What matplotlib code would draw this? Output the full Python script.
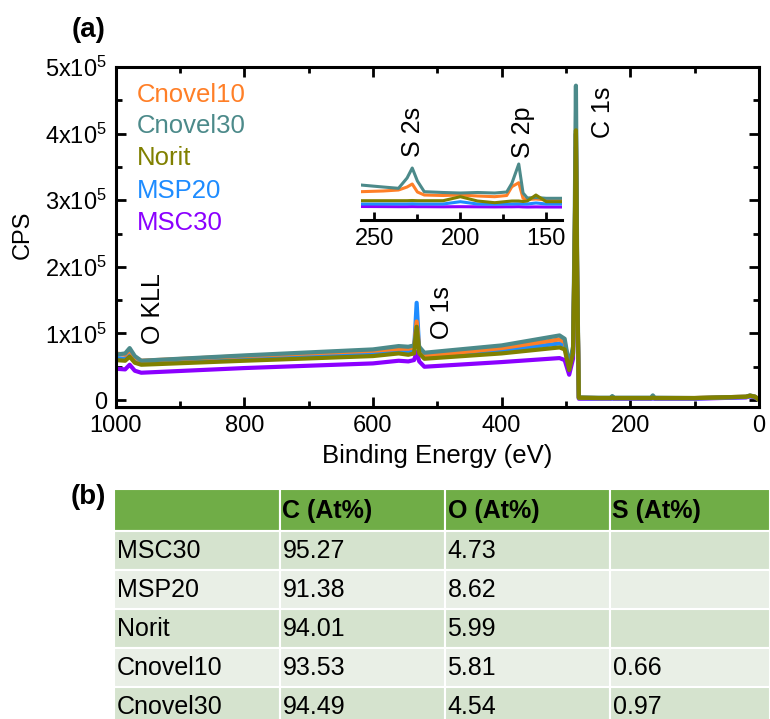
import matplotlib
matplotlib.use("Agg")
import matplotlib.pyplot as plt
from matplotlib.patches import Rectangle
from matplotlib.ticker import FixedLocator, MultipleLocator

plt.rcParams['font.family'] = ['Liberation Sans', 'DejaVu Sans']
plt.rcParams['mathtext.fontset'] = 'custom'
plt.rcParams['mathtext.rm'] = 'Liberation Sans'
plt.rcParams['mathtext.it'] = 'Liberation Sans:italic'

# ---------------- data: survey spectra (CPS in units of 1e5) ----------------
energy = [1000, 985, 978, 970, 960, 800, 600, 560, 545, 536, 532, 528, 520, 400, 310, 302,
          295, 289, 286.5, 284.5, 282.5, 280, 250, 230, 228, 226, 168, 165, 162, 100, 20, 14, 6, 0]
cnovel10 = [0.70, 0.68, 0.75, 0.64, 0.59, 0.66, 0.74, 0.77, 0.77, 0.79, 1.18, 0.77, 0.66, 0.78, 0.91, 0.87,
            0.50, 0.75, 2.30, 4.00, 1.80, 0.035, 0.03, 0.03, 0.045, 0.03, 0.03, 0.05, 0.03, 0.03, 0.05, 0.065, 0.05, 0.0]
cnovel30 = [0.68, 0.70, 0.78, 0.66, 0.59, 0.67, 0.76, 0.81, 0.80, 0.82, 1.05, 0.80, 0.71, 0.82, 0.97, 0.92,
            0.52, 0.80, 2.60, 4.72, 2.00, 0.04, 0.035, 0.035, 0.06, 0.035, 0.035, 0.07, 0.035, 0.03, 0.05, 0.07, 0.05, 0.0]
norit = [0.60, 0.59, 0.65, 0.56, 0.53, 0.59, 0.66, 0.70, 0.68, 0.70, 1.10, 0.70, 0.62, 0.70, 0.79, 0.76,
         0.45, 0.70, 2.30, 4.05, 1.80, 0.035, 0.03, 0.03, 0.035, 0.03, 0.03, 0.035, 0.03, 0.03, 0.05, 0.065, 0.05, 0.0]
msp20 = [0.63, 0.62, 0.70, 0.59, 0.55, 0.62, 0.70, 0.74, 0.73, 0.75, 1.46, 0.74, 0.63, 0.74, 0.85, 0.82,
         0.47, 0.72, 2.20, 4.00, 1.70, 0.03, 0.025, 0.025, 0.03, 0.025, 0.025, 0.03, 0.025, 0.025, 0.045, 0.06, 0.045, 0.0]
msc30 = [0.47, 0.46, 0.53, 0.44, 0.41, 0.48, 0.55, 0.59, 0.58, 0.60, 0.72, 0.58, 0.50, 0.57, 0.63, 0.60,
         0.38, 0.62, 2.00, 3.80, 1.60, 0.02, 0.02, 0.02, 0.025, 0.02, 0.02, 0.025, 0.02, 0.02, 0.04, 0.055, 0.04, 0.0]

# ---------------- data: inset (S 2s / S 2p region, CPS) ----------------
energy_in = [258, 245, 236, 231, 228, 225, 221, 210, 200, 190, 180, 173, 170, 166, 163.5, 161, 156, 150, 141]
cnovel10_in = [2830, 2900, 3000, 3300, 3600, 2800, 2500, 2450, 2500, 2400, 2330, 2450, 3330, 3730, 2170, 2050, 2100, 2000, 2000]
cnovel30_in = [3500, 3300, 3170, 4200, 5200, 3900, 2830, 2750, 2700, 2750, 2700, 2800, 3670, 5600, 2700, 2200, 2250, 2170, 2170]
norit_in = [1930, 1930, 1930, 1930, 1950, 1930, 1930, 1930, 2330, 1900, 1730, 1850, 1900, 1900, 1850, 1900, 2500, 1830, 1830]
msp20_in = [1600, 1600, 1600, 1600, 1620, 1600, 1600, 1600, 1830, 1600, 1580, 1600, 1600, 1620, 1600, 1600, 1700, 1600, 1600]
msc30_in = [1350, 1340, 1330, 1330, 1340, 1330, 1330, 1320, 1330, 1320, 1310, 1320, 1320, 1330, 1310, 1300, 1310, 1300, 1300]

series_names = ['MSC30', 'MSP20', 'Cnovel10', 'Cnovel30', 'Norit']
series_main = [msc30, msp20, cnovel10, cnovel30, norit]
series_inset = [msc30_in, msp20_in, cnovel10_in, cnovel30_in, norit_in]
colors = {'Cnovel10': '#FF7F27', 'Cnovel30': '#4C8A8A', 'Norit': '#808000',
          'MSP20': '#1E8CFF', 'MSC30': '#8B00FF'}
legend_order = ['Cnovel10', 'Cnovel30', 'Norit', 'MSP20', 'MSC30']

y_ticks = [0, 1, 2, 3, 4, 5]
y_ticklabels = ['0', '1x10$^5$', '2x10$^5$', '3x10$^5$', '4x10$^5$', '5x10$^5$']
x_ticks = [1000, 800, 600, 400, 200, 0]
x_ticks_in = [250, 200, 150]

# ---------------- data: table ----------------
table_header = ['', 'C (At%)', 'O (At%)', 'S (At%)']
table_samples = ['MSC30', 'MSP20', 'Norit', 'Cnovel10', 'Cnovel30']
table_C = ['95.27', '91.38', '94.01', '93.53', '94.49']
table_O = ['4.73', '8.62', '5.99', '5.81', '4.54']
table_S = ['', '', '', '0.66', '0.97']

W, H = 770, 719
fig = plt.figure(figsize=(W / 100, H / 100), dpi=100)


def fx(px):
    return px / W


def fy(py):
    return 1 - py / H


# ---------------- main axes ----------------
L, R, T, B = 115.5, 759.0, 67.0, 406.7
ax = fig.add_axes([fx(L), fy(B), fx(R - L), (B - T) / H])
for name, ys in zip(series_names, series_main):
    ax.plot(energy, ys, color=colors[name], lw=3.0, solid_joinstyle='round')
ax.set_xlim(1000, 0)
ax.set_ylim(-0.1, 5.0)
ax.xaxis.set_major_locator(FixedLocator(x_ticks))
ax.xaxis.set_minor_locator(MultipleLocator(100))
ax.yaxis.set_major_locator(FixedLocator(y_ticks))
ax.yaxis.set_minor_locator(MultipleLocator(0.5))
ax.set_yticklabels(y_ticklabels)
ax.tick_params(which='both', direction='in', top=True, right=True, width=2, labelsize=17, pad=6)
ax.tick_params(which='major', length=7)
ax.tick_params(which='minor', length=4)
for s in ax.spines.values():
    s.set_linewidth(2.2)
ax.set_xlabel('Binding Energy (eV)', fontsize=18.5, labelpad=5)
fig.text(fx(23), fy(235), 'CPS', rotation=90, fontsize=17, ha='center', va='center')

# legend as coloured text
legend_baselines = [101.7, 133, 165, 198, 230]
for name, yb in zip(legend_order, legend_baselines):
    fig.text(fx(137), fy(yb), name, color=colors[name], fontsize=18.5, ha='left', va='baseline')

# peak annotations
for txt, xc, yc in [('S 2s', 413, 132), ('S 2p', 523, 132), ('C 1s', 603, 112),
                    ('O KLL', 153, 309), ('O 1s', 442, 313)]:
    fig.text(fx(xc), fy(yc), txt, rotation=90, fontsize=18, ha='center', va='center')

# ---------------- inset ----------------
iL, iR, iT, iB = 360.7, 561.7, 150.0, 220.0
axin = fig.add_axes([fx(iL), fy(iB), fx(iR - iL), (iB - iT) / H])
for name, ys in zip(series_names, series_inset):
    axin.plot(energy_in, ys, color=colors[name], lw=2.2)
axin.set_xlim(258, 141)
axin.set_ylim(0, 7000)
axin.patch.set_alpha(0)
for k in ['left', 'right', 'top']:
    axin.spines[k].set_visible(False)
axin.spines['bottom'].set_linewidth(2.2)
axin.set_yticks([])
axin.xaxis.set_major_locator(FixedLocator(x_ticks_in))
axin.xaxis.set_minor_locator(MultipleLocator(25))
axin.tick_params(axis='x', which='both', direction='in', width=2, labelsize=17, pad=6)
axin.tick_params(axis='x', which='major', length=6)
axin.tick_params(axis='x', which='minor', length=4)

# panel labels
fig.text(fx(89), fy(30), '(a)', fontsize=20, fontweight='bold', ha='center', va='center')
fig.text(fx(88), fy(497), '(b)', fontsize=20, fontweight='bold', ha='center', va='center')

# ---------------- table ----------------
tab = fig.add_axes([0, 0, 1, 1])
tab.set_xlim(0, W)
tab.set_ylim(H, 0)
tab.axis('off')
col_edges = [114.3, 280, 445, 610, 770]
row_edges = [489.3, 531, 569.6, 608.5, 647.7, 686.7, 725.6]
header_color = '#70AD47'
band_colors = ['#D5E3CE', '#E9EFE6']
rows = [table_header] + [[s, c, o, sv] for s, c, o, sv in zip(table_samples, table_C, table_O, table_S)]
for r, row in enumerate(rows):
    y0, y1 = row_edges[r], row_edges[r + 1]
    fc = header_color if r == 0 else band_colors[(r - 1) % 2]
    for c, val in enumerate(row):
        x0, x1 = col_edges[c], col_edges[c + 1]
        tab.add_patch(Rectangle((x0, y0), x1 - x0, y1 - y0, facecolor=fc,
                                edgecolor='white', lw=1.5))
        if val:
            tab.text(x0 + 2.5, (y0 + y1) / 2 + 1, val, fontsize=18,
                     fontweight='bold' if r == 0 else 'normal', ha='left', va='center', color='black')

fig.savefig('out.png', dpi=100)
